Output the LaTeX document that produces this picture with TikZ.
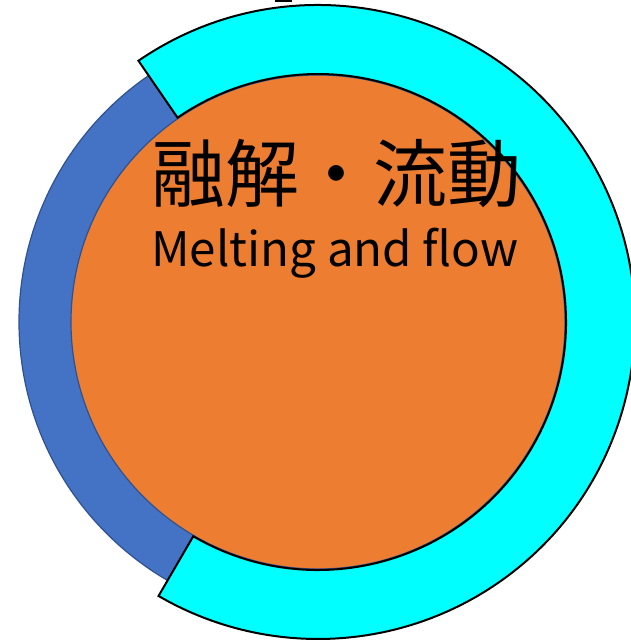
\documentclass[tikz,border=0pt]{standalone}
\usepackage{fontspec}
\newfontfamily\jpfont{Noto Sans CJK JP}
\usetikzlibrary{positioning}
\definecolor{RingBlue}{HTML}{4472C4}
\definecolor{EdgeBlue}{HTML}{2F528F}
\definecolor{CoreOrange}{HTML}{ED7D31}
\definecolor{FlowCyan}{HTML}{00FFFF}

\begin{document}
\begin{tikzpicture}[x=1pt,y=1pt,
    label/.style={font=\jpfont\fontsize{#1}{#1}\selectfont,inner sep=0pt,anchor=base}]
  \useasboundingbox (0,0) rectangle (631,642);
  \coordinate (c) at (318,320);
  % outer blue ring and the core
  \filldraw[fill=RingBlue,draw=EdgeBlue,line width=1.2pt] (c) circle (299);
  \filldraw[fill=CoreOrange,draw=EdgeBlue,line width=1.2pt] (c) circle (247);
  % cyan band on the right
  \draw[fill=FlowCyan,line width=2pt,line join=miter]
    ([shift={(124.5:317)}]c) arc[start angle=124.5,end angle=-120.2,radius=317]
    -- ([shift={(-120.2:248)}]c) arc[start angle=-120.2,end angle=124.5,radius=248] -- cycle;
  \draw[line width=2pt] (275,641) -- (292,641);
  \node[label=74] (title) at (336,440) {融解・流動};
  \node[label=47.5] (subtitle) at (335,375) {Melting and flow};
\end{tikzpicture}
\end{document}
